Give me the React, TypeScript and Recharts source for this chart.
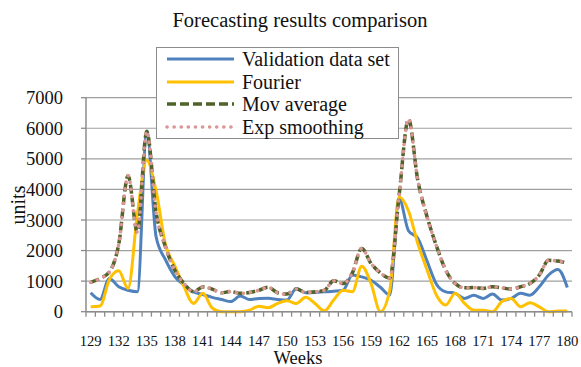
import React from "react";
import { LineChart, Line, XAxis, YAxis, CartesianGrid, Legend, Label } from "recharts";

const weeks = [
  "129", "130", "131", "132", "133", "134", "135", "136", "137", "138",
  "139", "140", "141", "142", "143", "144", "145", "146", "147", "148",
  "149", "150", "151", "152", "153", "154", "155", "156", "157", "158",
  "159", "160", "161", "162", "163", "164", "165", "166", "167", "168",
  "169", "170", "171", "172", "173", "174", "175", "176", "177", "178",
  "179", "180",
];

const validation = [
  620, 400, 1090, 815, 700, 650, 5900, 2450, 1700, 1150,
  870, 650, 560, 470, 400, 330, 510, 400, 435, 440,
  400, 380, 760, 620, 630, 650, 670, 700, 1200, 1140,
  1030, 800, 550, 3700, 2650, 2400, 1650, 900, 650, 600,
  435, 540, 435, 575, 380, 435, 600, 540, 815, 1200,
  1380, 790,
];

const fourier = [
  160, 185, 1050, 1340, 760, 3200, 4950, 3950, 2200, 1500,
  810, 270, 600, 120, 0, 0, 0, 50, 180, 130,
  270, 360, 270, 470, 270, 30, 380, 700, 650, 1490,
  920, 0, 700, 3750, 3300, 2230, 1360, 540, 220, 600,
  270, 50, 50, 0, 330, 435, 160, 290, 160, 0,
  20, 20,
];

const movAverage = [
  960, 1090, 1300, 2200, 4450, 2600, 5900, 3250, 2120, 1360,
  920, 650, 810, 740, 620, 660, 600, 630, 700, 800,
  620, 575, 740, 630, 650, 700, 1010, 920, 1270, 2070,
  1580, 1270, 1100, 3800, 6300, 4300, 3100, 2150, 1350, 920,
  780, 790, 760, 815, 780, 740, 815, 920, 1200, 1680,
  1660, 1580,
];

const expSmoothing = [
  960, 1090, 1300, 2200, 4450, 2600, 5900, 3250, 2120, 1360,
  920, 650, 810, 740, 620, 660, 600, 630, 700, 800,
  620, 575, 740, 630, 650, 700, 1010, 920, 1270, 2070,
  1580, 1270, 1100, 3800, 6300, 4300, 3100, 2150, 1350, 920,
  780, 790, 760, 815, 780, 740, 815, 920, 1200, 1680,
  1660, 1580,
];

const yTicks = [0, 1000, 2000, 3000, 4000, 5000, 6000, 7000];

const data = weeks.map((week, i) => ({
  week,
  validation: validation[i],
  fourier: fourier[i],
  movAverage: movAverage[i],
  expSmoothing: expSmoothing[i],
}));

const FONT = "'Liberation Serif', serif";
const AXIS = "#8c8c8c";
const GRID = "#a0a0a0";
const STEP = 486 / 52;

const series = [
  { key: "validation", name: "Validation data set", color: "#4F81BD", width: 3, dash: undefined, cap: "butt" },
  { key: "fourier", name: "Fourier", color: "#FFC000", width: 3, dash: undefined, cap: "butt" },
  { key: "movAverage", name: "Mov average", color: "#4F6228", width: 3.5, dash: "9 4", cap: "butt" },
  { key: "expSmoothing", name: "Exp smoothing", color: "#D99694", width: 3.6, dash: "0.1 7", cap: "round" },
];

const LegendBox = () => (
  <div
    style={{
      width: 243,
      height: 92,
      boxSizing: "border-box",
      border: `1.5px solid ${AXIS}`,
      background: "#fff",
      paddingLeft: 7,
      fontFamily: FONT,
      fontSize: 20,
      color: "#111",
    }}
  >
    {series.map((s) => (
      <div key={s.key} style={{ display: "flex", alignItems: "center", height: 22.5 }}>
        <svg width={72} height={10}>
          <line
            x1={3}
            x2={70}
            y1={5}
            y2={5}
            stroke={s.color}
            strokeWidth={s.width}
            strokeDasharray={s.dash}
            strokeLinecap={s.cap as any}
          />
        </svg>
        <span style={{ marginLeft: 6, lineHeight: "22px" }}>{s.name}</span>
      </div>
    ))}
  </div>
);

const WeekTick = ({ x, y, payload, index }: any) => (
  <g>
    <line x1={x - STEP / 2} x2={x - STEP / 2} y1={y} y2={y + 5} stroke={AXIS} strokeWidth={1.3} />
    {index === weeks.length - 1 && (
      <line x1={x + STEP / 2} x2={x + STEP / 2} y1={y} y2={y + 5} stroke={AXIS} strokeWidth={1.3} />
    )}
    {index % 3 === 0 && (
      <text x={x} y={y + 34.5} textAnchor="middle" fontFamily={FONT} fontSize={14.7} fill="#111">
        {payload.value}
      </text>
    )}
  </g>
);

export default function App() {
  return (
    <div style={{ position: "absolute", left: 0, top: 0, width: 581, height: 367, background: "#fff" }}>
      <div
        style={{
          position: "absolute",
          left: 0,
          top: 9,
          width: 600,
          textAlign: "center",
          fontFamily: FONT,
          fontSize: 20.5,
          lineHeight: "22px",
          color: "#111",
        }}
      >
        Forecasting results comparison
      </div>
      <LineChart
        width={581}
        height={367}
        data={data}
        margin={{ top: 97.7, right: 9, left: 0, bottom: 15.3 }}
      >
        <CartesianGrid vertical={false} stroke={GRID} strokeWidth={1.2} />
        <XAxis
          dataKey="week"
          interval={0}
          tickSize={0}
          tickMargin={0}
          height={40}
          padding={{ left: STEP / 2, right: STEP / 2 }}
          axisLine={{ stroke: AXIS, strokeWidth: 1.5 }}
          tick={<WeekTick />}
        />
        <YAxis
          width={86}
          domain={[0, 7000]}
          ticks={yTicks}
          tickSize={5}
          tickMargin={18}
          axisLine={{ stroke: AXIS, strokeWidth: 1.5 }}
          tickLine={{ stroke: AXIS, strokeWidth: 1.3 }}
          tick={{ fontFamily: FONT, fontSize: 18.5, fill: "#111" }}
        >
          <Label
            content={() => (
              <text
                x={18}
                y={205}
                transform="rotate(-90 18 205)"
                textAnchor="middle"
                dominantBaseline="central"
                fontFamily={FONT}
                fontSize={20}
                fill="#111"
              >
                units
              </text>
            )}
          />
        </YAxis>
        <Legend
          layout="horizontal"
          verticalAlign="middle"
          align="center"
          content={<LegendBox />}
          wrapperStyle={{ left: 156, top: 47, width: 243, height: 92 }}
        />
        {series.map((s) => (
          <Line
            key={s.key}
            type="monotone"
            dataKey={s.key}
            name={s.name}
            stroke={s.color}
            strokeWidth={s.width}
            strokeDasharray={s.dash}
            strokeLinecap={s.cap as any}
            dot={false}
            activeDot={false}
            isAnimationActive={false}
          />
        ))}
      </LineChart>
      <div
        style={{
          position: "absolute",
          left: 248,
          top: 349,
          width: 100,
          textAlign: "center",
          fontFamily: FONT,
          fontSize: 18.5,
          lineHeight: "18px",
          color: "#111",
        }}
      >
        Weeks
      </div>
    </div>
  );
}
